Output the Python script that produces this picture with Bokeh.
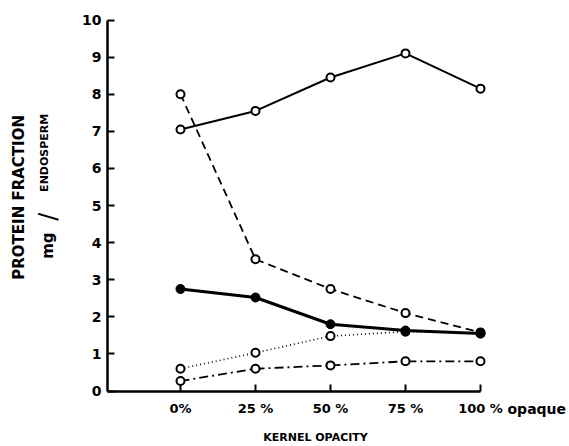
import math
from bokeh.plotting import figure
from bokeh.models import Range1d, FixedTicker, Label
from bokeh.embed import file_html
from bokeh.resources import INLINE

opacity = [0, 25, 50, 75, 100]
x_tick_labels = {0: "0%", 25: "25 %", 50: "50 %", 75: "75 %", 100: "100 %"}
y_ticks = [0, 1, 2, 3, 4, 5, 6, 7, 8, 9, 10]

total_open = [7.05, 7.55, 8.45, 9.1, 8.15]
dashed_open = [8.0, 3.55, 2.75, 2.1, 1.58]
solid_filled = [2.75, 2.52, 1.8, 1.63, 1.55]
dotted_open = [0.6, 1.03, 1.48, 1.6, 1.55]
dashdot_open = [0.27, 0.6, 0.69, 0.8, 0.8]

FONT = "DejaVu Sans"
X_AXIS_START = -24.3

p = figure(width=569, height=446, output_backend="svg", toolbar_location=None,
           x_range=Range1d(-60, 129.67), y_range=Range1d(-1.496, 10.526),
           min_border_left=0, min_border_right=0, min_border_top=0, min_border_bottom=0)
p.outline_line_color = None
p.grid.visible = False
p.background_fill_color = "white"
p.border_fill_color = "white"

for ax in (p.xaxis[0], p.yaxis[0]):
    ax.axis_line_width = 2.5
    ax.axis_line_color = "black"
    ax.major_tick_line_width = 2
    ax.major_tick_line_color = "black"
    ax.major_tick_in = 7
    ax.major_tick_out = 0
    ax.minor_tick_line_color = None
    ax.major_label_text_font = FONT
    ax.major_label_text_font_style = "bold"
    ax.major_label_text_color = "black"

p.xaxis.fixed_location = 0
p.xaxis.bounds = (X_AXIS_START, 100)
p.xaxis.ticker = FixedTicker(ticks=opacity)
p.xaxis.major_label_overrides = x_tick_labels
p.xaxis.major_label_text_font_size = "13px"
p.xaxis.major_label_standoff = 10

p.yaxis.fixed_location = X_AXIS_START
p.yaxis.bounds = (0, 10)
p.yaxis.ticker = FixedTicker(ticks=y_ticks)
p.yaxis.major_label_text_font_size = "14px"
p.yaxis.major_label_standoff = 6

# series
p.line(opacity, total_open, line_color="black", line_width=2)
p.line(opacity, dashed_open, line_color="black", line_width=1.8, line_dash="8 5")
p.line(opacity, dotted_open, line_color="black", line_width=1.6, line_dash="1 3")
p.line(opacity, dashdot_open, line_color="black", line_width=1.8, line_dash="9 4 2 4")
p.line(opacity, solid_filled, line_color="black", line_width=3)

for ys in (total_open, dashed_open, dotted_open, dashdot_open):
    p.scatter(opacity, ys, marker="circle", size=8, fill_color="white",
              line_color="black", line_width=2)
p.scatter(opacity, solid_filled, marker="circle", size=9, fill_color="black",
          line_color="black", line_width=1)

def lab(**kw):
    kw.setdefault("text_font", FONT)
    kw.setdefault("text_color", "black")
    kw.setdefault("text_font_style", "bold")
    p.add_layout(Label(**kw))

# texts
lab(x=100, y=0, x_offset=27, y_offset=-10, text="opaque", text_font_size="14px",
    text_align="left", text_baseline="top")
lab(x=45, y=0, y_offset=-40, text="KERNEL OPACITY", text_font_size="11px",
    text_align="center", text_baseline="top")
lab(x=-53.7, y=5.22, text="PROTEIN FRACTION", angle=math.pi / 2, text_font_size="15px",
    text_align="center", text_baseline="middle")
lab(x=-45.3, y=6.42, text="ENDOSPERM", angle=math.pi / 2, text_font_size="11px",
    text_align="center", text_baseline="middle")
lab(x=-44.3, y=4.7, text="/", angle=math.pi / 2, text_font_size="24px",
    text_font_style="normal", text_align="center", text_baseline="middle")
lab(x=-44.3, y=3.92, text="mg", angle=math.pi / 2, text_font_size="15px",
    text_align="center", text_baseline="middle")

open("out.html", "w").write(file_html(p, INLINE))
